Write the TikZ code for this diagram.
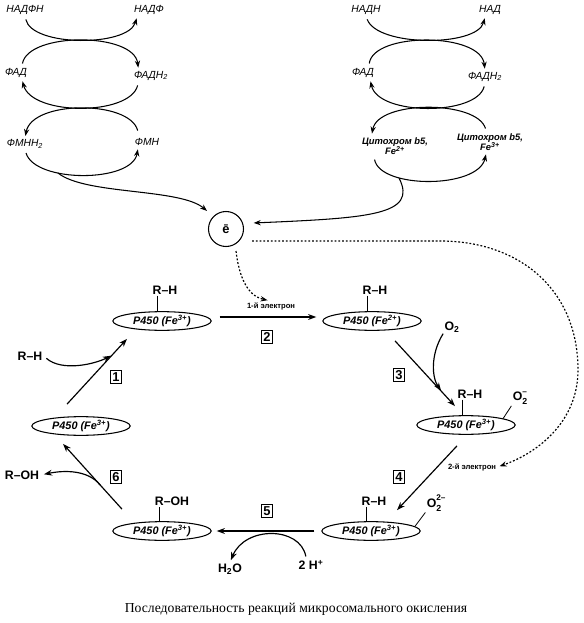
\documentclass[tikz,border=0pt]{standalone}
\usepackage{fontspec}
\setmainfont{Liberation Serif}
\setsansfont{Liberation Sans}
\usetikzlibrary{shapes.geometric,arrows.meta}

\newcommand{\pfe}[1]{P450 (Fe\textsuperscript{#1})}
\newcommand{\oxy}[1]{O\rlap{\raisebox{1.05ex}{\fontsize{7}{7}\selectfont #1}}\raisebox{-0.55ex}{\fontsize{7.5}{8}\selectfont 2}}

\begin{document}
\begin{tikzpicture}
    [x=0.03cm, y=-0.03cm,
     pel/.style={ellipse, draw, line width=0.9pt, minimum width=2.95cm, minimum height=0.56cm, inner sep=0pt,
       font=\sffamily\bfseries\itshape\fontsize{9.3}{10}\selectfont},
     grp/.style={font=\sffamily\bfseries\fontsize{10.5}{12}\selectfont, inner sep=1pt},
     cof/.style={font=\sffamily\itshape\fontsize{8.8}{10}\selectfont, inner sep=1pt},
     cyt/.style={font=\sffamily\bfseries\itshape\fontsize{8}{9}\selectfont, align=center, inner sep=1pt},
     numbox/.style={draw, line width=0.7pt, inner sep=1.5pt, font=\sffamily\bfseries\fontsize{11}{12}\selectfont},
     elab/.style={font=\sffamily\bfseries\fontsize{6.5}{7}\selectfont, inner sep=1pt},
     bond/.style={line width=0.7pt},
     cyc/.style={-{Stealth[length=6pt,width=4.5pt]}, line width=0.9pt, shorten <=3pt, shorten >=2pt},
     rxn/.style={-{Stealth[length=7pt,width=5pt]}, line width=1pt},
     eflow/.style={-{Stealth[length=6pt,width=4.5pt]}, line width=1pt, dash pattern=on 1.6pt off 1.6pt}]
    \useasboundingbox (0,0) rectangle (583,623);

    % NADPH -> FAD -> FMN
    \node[cof] (nadfn) at (25,10) {НАДФН};
    \node[cof] (nadf) at (149,10) {НАДФ};
    \node[cof] (fadL) at (16,73) {ФАД};
    \node[cof] (fadhL) at (151,76) {ФАДН\textsubscript{2}};
    \node[cof] (fmnh) at (25,144) {ФМНН\textsubscript{2}};
    \node[cof] (fmn) at (147,142) {ФМН};

    \draw[cyc] (nadfn.south) .. controls (32,47) and (128,47) .. ([xshift=4pt]nadf.south west);
    \draw[cyc] ([xshift=5pt]fadL.north) .. controls (28,32) and (134,32) .. ([xshift=5pt]fadhL.north west);
    \draw[cyc] ([xshift=5pt]fadhL.south west) .. controls (130,116) and (32,116) .. ([xshift=5pt]fadL.south);
    \draw[cyc] ([shift={(5,-3)}]fmn.north west) .. controls (130,100) and (32,100) .. (fmnh.north);
    \draw[cyc] (fmnh.south) .. controls (35,183) and (132,183) .. ([xshift=4pt]fmn.south west);

    % NADH -> FAD -> cytochrome b5
    \node[cof] (nadh) at (366,10) {НАДН};
    \node[cof] (nad) at (490,10) {НАД};
    \node[cof] (fadR) at (363,73) {ФАД};
    \node[cof] (fadhR) at (485,77) {ФАДН\textsubscript{2}};
    \node[cyt] (cytII) at (395,146) {Цитохром b5,\\Fe\textsuperscript{2+}};
    \node[cyt] (cytIII) at (490,142) {Цитохром b5,\\Fe\textsuperscript{3+}};

    \draw[cyc] (nadh.south) .. controls (377,47) and (477,47) .. ([xshift=-4pt]nad.south);
    \draw[cyc] ([xshift=5pt]fadR.north) .. controls (373,32) and (481,32) .. (fadhR.north);
    \draw[cyc] (fadhR.south) .. controls (477,116) and (378,116) .. ([xshift=6pt]fadR.south);
    \draw[cyc] ([xshift=-3pt]cytIII.north) .. controls (477,100) and (378,100) .. ([xshift=-20pt]cytII.north);
    \draw[cyc] ([xshift=-18pt]cytII.south) .. controls (380,189) and (478,189) .. ([xshift=-3pt]cytIII.south);

    % electron
    \node[draw, circle, line width=0.9pt, minimum size=1.05cm, inner sep=0pt,
          font=\sffamily\bfseries\fontsize{11}{12}\selectfont] (eC) at (226,229) {ē};
    \coordinate (fmnOut) at (58,173);
    \coordinate (cytOut) at (399,178);
    \draw[cyc, shorten <=0pt, shorten >=7pt] (fmnOut) .. controls (85,195) and (180,188) .. (eC.135);
    \draw[cyc, shorten <=0pt, shorten >=9pt] (cytOut) .. controls (418,215) and (370,218) .. (eC.18);

    % P450 cycle
    \node[pel] (pA) at (162,321) {\pfe{3+}};
    \node[pel] (pB) at (372,321) {\pfe{2+}};
    \node[pel] (pC) at (466,425) {\pfe{3+}};
    \node[pel] (pD) at (371,531) {\pfe{3+}};
    \node[pel] (pE) at (162,531) {\pfe{3+}};
    \node[pel] (pF) at (81,426) {\pfe{3+}};

    \node[grp] (rhA) at (165,290) {R–H};
    \node[grp] (rhB) at (375,290) {R–H};
    \node[grp] (rhC) at (470,394) {R–H};
    \node[grp] (rhD) at (374,501) {R–H};
    \node[grp] (rohE) at (172,501) {R–OH};
    \node[grp] (o2m) at (520,398) {\oxy{–}};
    \node[grp] (o22) at (434,503) {\oxy{2–}};

    \draw[bond] ([xshift=5pt]rhA.south west) -- ([xshift=5pt]rhA.south west |- pA.north);
    \draw[bond] ([xshift=5pt]rhB.south west) -- ([xshift=5pt]rhB.south west |- pB.north);
    \draw[bond] ([xshift=5pt]rhC.south west) -- ([xshift=5pt]rhC.south west |- pC.north);
    \draw[bond] ([xshift=5pt]rhD.south west) -- ([xshift=5pt]rhD.south west |- pD.north);
    \draw[bond] ([xshift=5pt]rohE.south west) -- ([xshift=5pt]rohE.south west |- pE.north);
    \draw[bond] (pC.10) -- (o2m.south west);
    \draw[bond] (pD.6) -- (o22.south west);

    \draw[rxn] ([shift={(-14,-12)}]pF.north) -- coordinate[pos=0.75] (j1) ([shift={(-35,8)}]pA.south);
    \draw[rxn] ([shift={(8,-4)}]pA.east) -- ([shift={(-6,-4)}]pB.west);
    \draw[rxn] ([shift={(23,10)}]pB.south) -- coordinate[pos=0.78] (j3) ([shift={(-11,-9)}]pC.north);
    \draw[rxn] ([shift={(-9,11)}]pC.south) -- ([shift={(26,-11)}]pD.north);
    \draw[rxn] ([shift={(-7,0)}]pD.west) -- ([shift={(5,0)}]pE.east);
    \draw[rxn] ([shift={(-40,-12)}]pE.north) -- coordinate[pos=0.37] (j6) ([shift={(-18,8)}]pF.south);

    \node[numbox] (n1) at (116,377) {1};
    \node[numbox] (n2) at (267,337) {2};
    \node[numbox] (n3) at (399,375) {3};
    \node[numbox] (n4) at (399,477) {4};
    \node[numbox] (n5) at (267,511) {5};
    \node[numbox] (n6) at (116,477) {6};

    % side substrates
    \node[grp] (rhIn) at (30,356) {R–H};
    \node[grp] (o2In) at (452,327) {O\textsubscript{2}};
    \node[grp] (hIn) at (311,565) {2 H\textsuperscript{+}};
    \node[grp] (h2o) at (230,569) {H\textsubscript{2}O};
    \node[grp] (rohOut) at (22,475) {R–OH};
    \draw[rxn, shorten <=3pt, shorten >=1pt] (rhIn.east) .. controls (62,372) and (95,364) .. (j1);
    \draw[rxn, shorten >=1pt] (o2In.south west) .. controls (430,355) and (432,378) .. (j3);
    \draw[rxn, shorten <=2pt, shorten >=2pt] ([xshift=-4pt]hIn.north) .. controls (300,526) and (245,526) .. (h2o.north);
    \draw[rxn, shorten >=3pt] (j6) .. controls (88,470) and (65,470) .. (rohOut.east);

    % electron transfer
    \node[elab] (el1) at (271,306) {1-й электрон};
    \node[elab] (el2) at (472,467) {2-й электрон};
    \draw[eflow, shorten >=3pt] ([shift={(10,4)}]eC.south) .. controls (240,285) and (252,297) .. (el1.north);
    \draw[eflow, shorten >=2pt] ([shift={(8,12)}]eC.east) -- (440,241)
        .. controls (520,241) and (578,290) .. (578,370)
        .. controls (578,420) and (540,452) .. (el2.east);

    \node[font=\rmfamily\fontsize{11.7}{13}\selectfont] (cap) at (296,609)
        {Последовательность реакций микросомального окисления};
\end{tikzpicture}
\end{document}
